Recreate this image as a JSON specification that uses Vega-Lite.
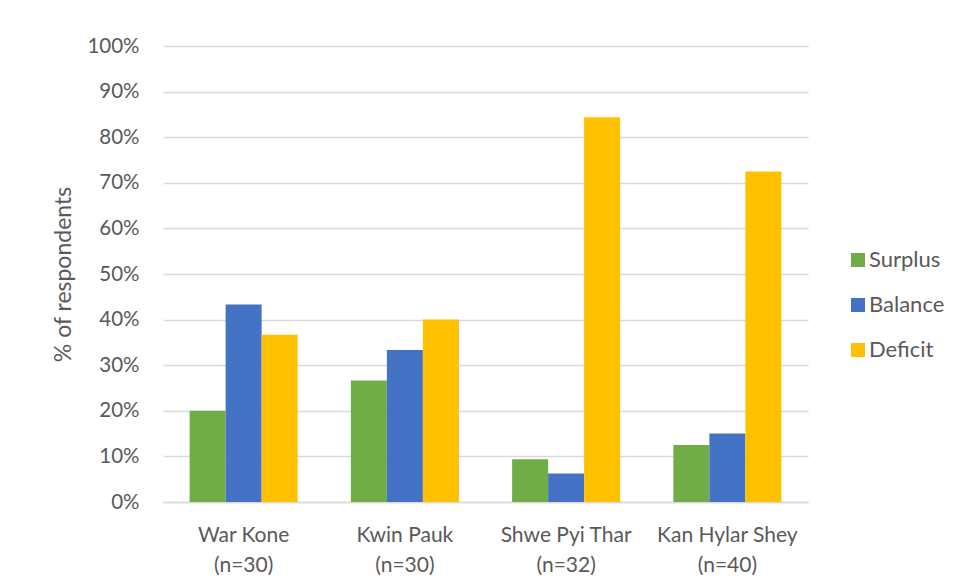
{
  "$schema": "https://vega.github.io/schema/vega-lite/v6.json",
  "autosize": {"type": "none"},
  "width": 645,
  "height": 456,
  "padding": {"left": 163, "top": 46, "right": 151, "bottom": 81},
  "background": "white",
  "config": {
    "font": "Lato",
    "view": {"stroke": null},
    "axis": {"labelColor": "#595959", "titleColor": "#595959", "labelFont": "Lato", "titleFont": "Lato"},
    "legend": {"labelColor": "#595959", "labelFont": "Lato"}
  },
  "data": {
    "values": [
      {"site": "War Kone|(n=30)", "type": "Surplus", "pct": 0.2},
      {"site": "War Kone|(n=30)", "type": "Balance", "pct": 0.4333},
      {"site": "War Kone|(n=30)", "type": "Deficit", "pct": 0.3667},
      {"site": "Kwin Pauk|(n=30)", "type": "Surplus", "pct": 0.2667},
      {"site": "Kwin Pauk|(n=30)", "type": "Balance", "pct": 0.3333},
      {"site": "Kwin Pauk|(n=30)", "type": "Deficit", "pct": 0.4},
      {"site": "Shwe Pyi Thar|(n=32)", "type": "Surplus", "pct": 0.09375},
      {"site": "Shwe Pyi Thar|(n=32)", "type": "Balance", "pct": 0.0625},
      {"site": "Shwe Pyi Thar|(n=32)", "type": "Deficit", "pct": 0.84375},
      {"site": "Kan Hylar Shey|(n=40)", "type": "Surplus", "pct": 0.125},
      {"site": "Kan Hylar Shey|(n=40)", "type": "Balance", "pct": 0.15},
      {"site": "Kan Hylar Shey|(n=40)", "type": "Deficit", "pct": 0.725}
    ]
  },
  "mark": {"type": "bar"},
  "encoding": {
    "x": {
      "field": "site",
      "type": "nominal",
      "sort": null,
      "scale": {"paddingInner": 0.33, "paddingOuter": 0.165},
      "axis": {
        "title": null,
        "labelAngle": 0,
        "labelExpr": "split(datum.label, '|')",
        "labelFontSize": 21,
        "labelLineHeight": 30,
        "labelPadding": 33,
        "labelOverlap": false,
        "ticks": false,
        "domain": true,
        "domainColor": "#D9D9D9",
        "domainWidth": 1.5,
        "labelBaseline": "middle"
      }
    },
    "xOffset": {"field": "type", "type": "nominal", "sort": ["Surplus", "Balance", "Deficit"]},
    "y": {
      "field": "pct",
      "type": "quantitative",
      "scale": {"domain": [0, 1], "nice": false},
      "axis": {
        "title": "% of respondents",
        "titleFontSize": 23,
        "titleFontWeight": "normal",
        "titleX": -100,
        "titleY": 228,
        "titleAlign": "center",
        "titleBaseline": "middle",
        "format": ".0%",
        "values": [0, 0.1, 0.2, 0.3, 0.4, 0.5, 0.6, 0.7, 0.8, 0.9, 1],
        "labelOverlap": false,
        "labelFontSize": 20.5,
        "labelPadding": 24,
        "ticks": false,
        "domain": false,
        "grid": true,
        "gridColor": "#D9D9D9",
        "gridWidth": 1.5
      }
    },
    "color": {
      "field": "type",
      "type": "nominal",
      "sort": ["Surplus", "Balance", "Deficit"],
      "scale": {"domain": ["Surplus", "Balance", "Deficit"], "range": ["#70AD47", "#4472C4", "#FFC000"]},
      "legend": {
        "title": null,
        "orient": "none",
        "legendX": 684,
        "legendY": 203,
        "symbolType": "square",
        "symbolSize": 196,
        "symbolStrokeWidth": 0,
        "labelFontSize": 22,
        "labelOffset": 0,
        "rowPadding": 23
      }
    }
  }
}
